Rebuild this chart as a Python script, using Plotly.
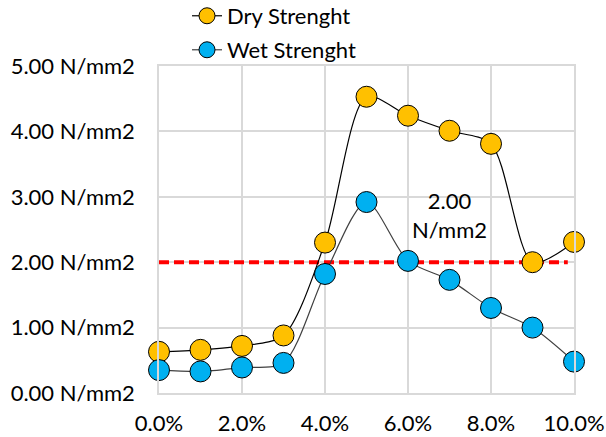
import plotly.graph_objects as go

concentration = [0.00, 0.01, 0.02, 0.03, 0.04, 0.05, 0.06, 0.07, 0.08, 0.09, 0.10]
dry_strength = [0.63, 0.66, 0.72, 0.88, 2.30, 4.53, 4.24, 4.01, 3.81, 2.00, 2.31]
wet_strength = [0.35, 0.33, 0.39, 0.46, 1.82, 2.92, 2.02, 1.73, 1.30, 1.00, 0.48]
threshold_x = [0.00, 0.0985]
threshold_y = [2.00, 2.00]
label_text = "2.00<br>N/mm2"
label_pos = (0.07, 2.72)

FONT = "Lato, Calibri, Carlito, sans-serif"
FS = 22

fig = go.Figure()
fig.add_trace(go.Scatter(
    x=threshold_x, y=threshold_y, mode="lines", showlegend=False,
    line=dict(color="#FF0000", width=4, dash="10px,5px"), hoverinfo="skip"))
fig.add_trace(go.Scatter(
    x=concentration, y=dry_strength, name="Dry Strenght", mode="lines+markers",
    line=dict(color="#000000", width=1.2, shape="spline", smoothing=0.8),
    marker=dict(size=21, color="#FFC000", line=dict(color="#000000", width=1)),
    legend="legend", cliponaxis=False))
fig.add_trace(go.Scatter(
    x=concentration, y=wet_strength, name="Wet Strenght", mode="lines+markers",
    line=dict(color="#404040", width=1.2, shape="spline", smoothing=0.8),
    marker=dict(size=21, color="#00B0F0", line=dict(color="#000000", width=1)),
    legend="legend2", cliponaxis=False))

fig.add_annotation(x=label_pos[0], y=label_pos[1], text=label_text, showarrow=False,
                   font=dict(family=FONT, size=FS, color="#000000"))

fig.update_layout(
    width=606, height=437,
    margin=dict(l=159, r=32, t=66, b=44, autoexpand=False),
    paper_bgcolor="white", plot_bgcolor="white",
    font=dict(family=FONT, size=FS, color="#000000"),
    legend=dict(x=0.0675, y=1.153, xanchor="left", yanchor="middle",
                bgcolor="rgba(0,0,0,0)", font=dict(size=FS)),
    legend2=dict(x=0.0675, y=1.049, xanchor="left", yanchor="middle",
                 bgcolor="rgba(0,0,0,0)", font=dict(size=FS)),
    xaxis=dict(range=[0, 0.10], tickvals=[0, 0.02, 0.04, 0.06, 0.08, 0.10], tickformat=".1%",
               showgrid=True, gridcolor="#D9D9D9", gridwidth=1.5,
               showline=True, linecolor="#D9D9D9", linewidth=1.5, mirror=True,
               zeroline=False, ticks="", ticklabelstandoff=10, tickfont=dict(size=FS)),
    yaxis=dict(range=[0, 5], dtick=1, tickformat=".2f", ticksuffix=" N/mm2",
               showgrid=True, gridcolor="#D9D9D9", gridwidth=1.5,
               showline=True, linecolor="#D9D9D9", linewidth=1.5, mirror=True,
               zeroline=False, ticks="", ticklabelstandoff=18, tickfont=dict(size=FS)),
)

fig.write_html("out.html")
